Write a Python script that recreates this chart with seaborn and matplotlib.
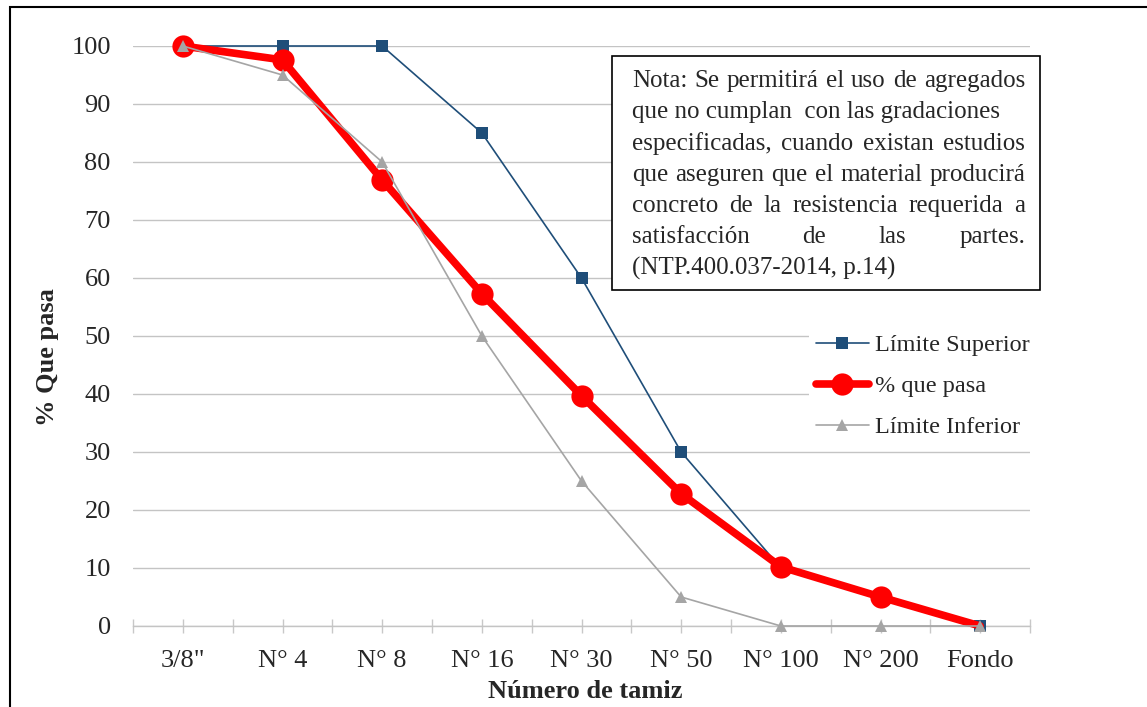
import numpy as np
import matplotlib
matplotlib.use("Agg")
import matplotlib.pyplot as plt
from matplotlib.patches import Rectangle
import seaborn as sns

# Data
tamices = ['3/8"', "N° 4", "N° 8", "N° 16", "N° 30", "N° 50", "N° 100", "N° 200", "Fondo"]
lim_sup = [100, 100, 100, 85, 60, 30, 10, np.nan, 0]
que_pasa = [100, 97.6, 76.9, 57.3, 39.7, 22.8, 10.2, 5.0, 0]
lim_inf = [100, 95, 80, 50, 25, 5, 0, 0, 0]

nota = [
    ("Nota: Se permitirá  el uso de agregados", True),
    ("que no cumplan  con las gradaciones", False),
    ("especificadas,  cuando  existan  estudios", True),
    ("que aseguren  que el material  producirá", True),
    ("concreto  de la  resistencia  requerida  a", True),
    ("satisfacción de las partes.", True),
    ("(NTP.400.037-2014, p.14)", False),
]

sns.set_style("white")
plt.rcParams["font.family"] = ["Liberation Serif", "DejaVu Serif"]

W, H = 1147, 707
fig = plt.figure(figsize=(W / 100, H / 100), dpi=100)
ax = fig.add_axes([133 / W, 1 - 626 / H, 897 / W, 580 / H])

x = np.arange(len(tamices))
sup = np.array(lim_sup, dtype=float)
ok = ~np.isnan(sup)

azul = "#1F4E79"
rojo = "#FF0000"
gris = "#A5A5A5"

sns.lineplot(x=x[ok], y=sup[ok], ax=ax, color=azul, linewidth=1.2, marker="s",
             markersize=8, markeredgewidth=0, markeredgecolor=azul,
             label="Límite Superior", clip_on=False, zorder=3)
sns.lineplot(x=x, y=que_pasa, ax=ax, color=rojo, linewidth=5.5, marker="o",
             markersize=16, markeredgewidth=0, markeredgecolor=rojo,
             markevery=list(range(len(tamices) - 1)),
             label="% que pasa", clip_on=False, zorder=4)
sns.lineplot(x=x, y=lim_inf, ax=ax, color=gris, linewidth=1.2, marker="^",
             markersize=8.5, markeredgewidth=0, markeredgecolor=gris,
             label="Límite Inferior", clip_on=False, zorder=5)

ax.set_xlim(-0.5, len(tamices) - 0.5)
ax.set_ylim(0, 100)
ax.set_yticks(range(0, 101, 10))
ax.set_xticks(x)
ax.set_xticklabels(tamices)
ax.set_xticks(np.arange(-0.5, len(tamices)), minor=True)
ax.grid(axis="y", color="#C4C4C4", linewidth=1)
ax.grid(axis="x", visible=False)
ax.set_axisbelow(True)

for s in ["left", "right", "top"]:
    ax.spines[s].set_visible(False)
ax.spines["bottom"].set_color("#C4C4C4")
ax.spines["bottom"].set_linewidth(1)

ax.tick_params(axis="y", length=0, pad=16, labelsize=19)
ax.tick_params(axis="x", which="both", direction="inout", length=10,
               color="#C8C8C8", width=1, bottom=True)
ax.tick_params(axis="x", which="major", pad=12, labelsize=19)

ax.set_xlabel("Número de tamiz", fontsize=19, fontweight="bold")
ax.set_ylabel("% Que pasa", fontsize=19, fontweight="bold")
ax.xaxis.set_label_coords(0.504, -0.093)
ax.yaxis.set_label_coords(-0.082, 0.464)

ax.legend(loc="upper left", bbox_to_anchor=(809 / W, 1 - 327 / H),
          bbox_transform=fig.transFigure, fontsize=17.5, frameon=True,
          facecolor="white", edgecolor="none", framealpha=1, fancybox=False,
          handlelength=2.15, handletextpad=0.25, labelspacing=0.78,
          borderpad=0.3, borderaxespad=0)

# outer frame of the chart (cropped on right and bottom)
fig.patches.append(Rectangle((10 / W, -0.05), 1.2, 1 - 7 / H + 0.05,
                             transform=fig.transFigure, fill=False,
                             edgecolor="black", linewidth=1.5))

# note box
fig.patches.append(Rectangle((612 / W, 1 - 290 / H), 428 / W, 234 / H,
                             transform=fig.transFigure, facecolor="white",
                             edgecolor="black", linewidth=1.2, zorder=10))

renderer = fig.canvas.get_renderer()
x0, x1 = 632, 1025
for i, (linea, just) in enumerate(nota):
    yb = 1 - (87 + 31.3 * i) / H
    if not just:
        fig.text(x0 / W, yb, linea, fontsize=18, va="baseline", ha="left", zorder=11)
        continue
    palabras = linea.split()
    objs = [fig.text(0, yb, p, fontsize=18, va="baseline", ha="left", zorder=11)
            for p in palabras]
    anchos = [t.get_window_extent(renderer).width for t in objs]
    hueco = (x1 - x0 - sum(anchos)) / (len(palabras) - 1)
    pos = x0
    for t, w in zip(objs, anchos):
        t.set_x(pos / W)
        pos += w + hueco

fig.savefig("out.png", dpi=100)
